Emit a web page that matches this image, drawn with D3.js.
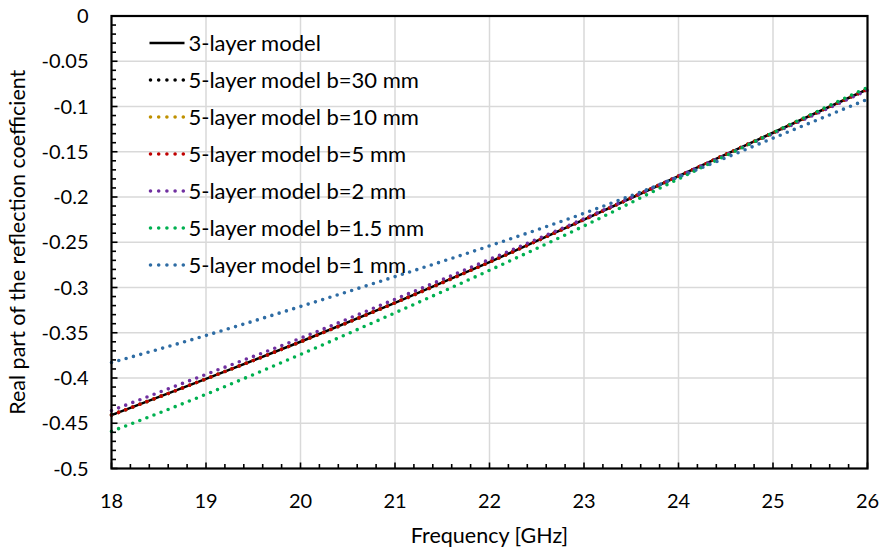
<!DOCTYPE html>
<html lang="en">
<head>
    <meta charset="UTF-8">
    <title>Real part of the reflection coefficient</title>
    <style>
        body {
            margin: 0;
            padding: 0;
            background: #fff;
            font-family: Lato, "Open Sans", sans-serif;
        }
        .grid line {
            stroke: #d9d9d9;
            stroke-width: 1.5px;
        }
        .tick-label {
            font-size: 20px;
            fill: #000;
        }
        .axis-title {
            font-size: 21.5px;
            fill: #000;
        }
        .legend-label {
            font-size: 22px;
            fill: #000;
        }
    </style>
    <script src="https://d3js.org/d3.v7.min.js"></script>
</head>
<body>
    <svg id="chart" width="883" height="552"></svg>

    <script>
        // frequency points (GHz)
        const freq = [18, 19, 20, 21, 22, 23, 24, 25, 26];

        const threeLayer = [-0.441, -0.401, -0.360, -0.317, -0.272, -0.225, -0.177, -0.129, -0.081];
        const b30 = [-0.441, -0.401, -0.360, -0.317, -0.272, -0.225, -0.177, -0.129, -0.081];
        const b10 = [-0.441, -0.401, -0.360, -0.317, -0.272, -0.225, -0.177, -0.129, -0.081];
        const b5 = [-0.441, -0.401, -0.360, -0.317, -0.272, -0.225, -0.177, -0.129, -0.081];
        const b2 = [-0.436, -0.396, -0.356, -0.313, -0.269, -0.224, -0.177, -0.130, -0.082];
        const b15 = [-0.459, -0.418, -0.374, -0.328, -0.281, -0.232, -0.180, -0.129, -0.079];
        const b1 = [-0.383, -0.353, -0.321, -0.288, -0.254, -0.218, -0.178, -0.135, -0.092];

        const xTicks = [18, 19, 20, 21, 22, 23, 24, 25, 26];
        const yTicks = [0, -0.05, -0.1, -0.15, -0.2, -0.25, -0.3, -0.35, -0.4, -0.45, -0.5];

        const series = [
            { name: '3-layer model', values: threeLayer, color: '#000000', dotted: false },
            { name: '5-layer model b=30 mm', values: b30, color: '#000000', dotted: true },
            { name: '5-layer model b=10 mm', values: b10, color: '#bf9000', dotted: true },
            { name: '5-layer model b=5 mm', values: b5, color: '#c00000', dotted: true },
            { name: '5-layer model b=2 mm', values: b2, color: '#7030a0', dotted: true },
            { name: '5-layer model b=1.5 mm', values: b15, color: '#00b050', dotted: true },
            { name: '5-layer model b=1 mm', values: b1, color: '#2e6ca4', dotted: true }
        ];

        const margin = { left: 111.5, top: 16, right: 883 - 867.5, bottom: 552 - 468.5 };
        const width = 883 - margin.left - margin.right;
        const height = 552 - margin.top - margin.bottom;

        const svg = d3.select('#chart');
        const g = svg.append('g').attr('transform', `translate(${margin.left},${margin.top})`);

        const x = d3.scaleLinear().domain([18, 26]).range([0, width]);
        const y = d3.scaleLinear().domain([-0.5, 0]).range([height, 0]);

        // gridlines
        g.append('g').attr('class', 'grid')
            .selectAll('line.v').data(xTicks.slice(1, -1)).enter().append('line')
            .attr('x1', d => x(d)).attr('x2', d => x(d))
            .attr('y1', 0).attr('y2', height);
        g.append('g').attr('class', 'grid')
            .selectAll('line.h').data(yTicks.slice(1, -1)).enter().append('line')
            .attr('x1', 0).attr('x2', width)
            .attr('y1', d => y(d)).attr('y2', d => y(d));

        // lines
        const line = d3.line()
            .x((d, i) => x(freq[i]))
            .y(d => y(d))
            .curve(d3.curveMonotoneX);

        const plot = g.append('g');
        series.forEach(s => {
            const p = plot.append('path')
                .datum(s.values)
                .attr('fill', 'none')
                .attr('stroke', s.color)
                .attr('d', line);
            if (s.dotted) {
                p.attr('stroke-width', 3.6)
                    .attr('stroke-linecap', 'round')
                    .attr('stroke-dasharray', '0 7.6');
            } else {
                p.attr('stroke-width', 2.6);
            }
        });

        // frame
        g.append('rect')
            .attr('x', 0).attr('y', 0)
            .attr('width', width).attr('height', height)
            .attr('fill', 'none')
            .attr('stroke', '#000')
            .attr('stroke-width', 2.2);

        // minor/major ticks, pointing inside
        const yMinor = d3.range(0, 51).map(i => -i * 0.01);
        g.append('g').selectAll('line').data(yMinor).enter().append('line')
            .attr('x1', 0)
            .attr('x2', (d, i) => i % 5 === 0 ? 6 : 4.5)
            .attr('y1', d => y(d)).attr('y2', d => y(d))
            .attr('stroke', '#000').attr('stroke-width', 1.6);

        const xMinor = d3.range(0, 41).map(i => 18 + i * 0.2);
        g.append('g').selectAll('line').data(xMinor).enter().append('line')
            .attr('x1', d => x(d)).attr('x2', d => x(d))
            .attr('y1', height)
            .attr('y2', (d, i) => i % 5 === 0 ? height - 6 : height - 4.5)
            .attr('stroke', '#000').attr('stroke-width', 1.6);

        // tick labels (plain hyphen for the minus, like the original)
        g.append('g').selectAll('text').data(yTicks).enter().append('text')
            .attr('class', 'tick-label')
            .attr('x', -23)
            .attr('y', d => y(d))
            .attr('dy', '0.35em')
            .attr('text-anchor', 'end')
            .text(d => String(d));

        g.append('g').selectAll('text').data(xTicks).enter().append('text')
            .attr('class', 'tick-label')
            .attr('x', d => x(d))
            .attr('y', height + 39)
            .attr('text-anchor', 'middle')
            .text(d => d);

        // axis titles
        g.append('text')
            .attr('class', 'axis-title')
            .attr('x', width / 2)
            .attr('y', height + 74)
            .attr('text-anchor', 'middle')
            .text('Frequency [GHz]');

        g.append('text')
            .attr('class', 'axis-title')
            .attr('transform', `translate(${-87},${height / 2}) rotate(-90)`)
            .attr('text-anchor', 'middle')
            .text('Real part of the reflection coefficient');

        // legend
        const legend = g.append('g').attr('transform', 'translate(38,27)');
        series.forEach((s, i) => {
            const row = legend.append('g').attr('transform', `translate(0,${i * 37})`);
            const sym = row.append('line')
                .attr('x1', 0).attr('x2', 35)
                .attr('y1', 0).attr('y2', 0)
                .attr('stroke', s.color);
            if (s.dotted) {
                sym.attr('x1', 1).attr('x2', 34)
                    .attr('stroke-width', 3.6)
                    .attr('stroke-linecap', 'round')
                    .attr('stroke-dasharray', '0 8.2');
            } else {
                sym.attr('stroke-width', 2.6);
            }
            row.append('text')
                .attr('class', 'legend-label')
                .attr('x', 39)
                .attr('y', 0)
                .attr('dy', '0.35em')
                .text(s.name);
        });
    </script>
</body>
</html>
